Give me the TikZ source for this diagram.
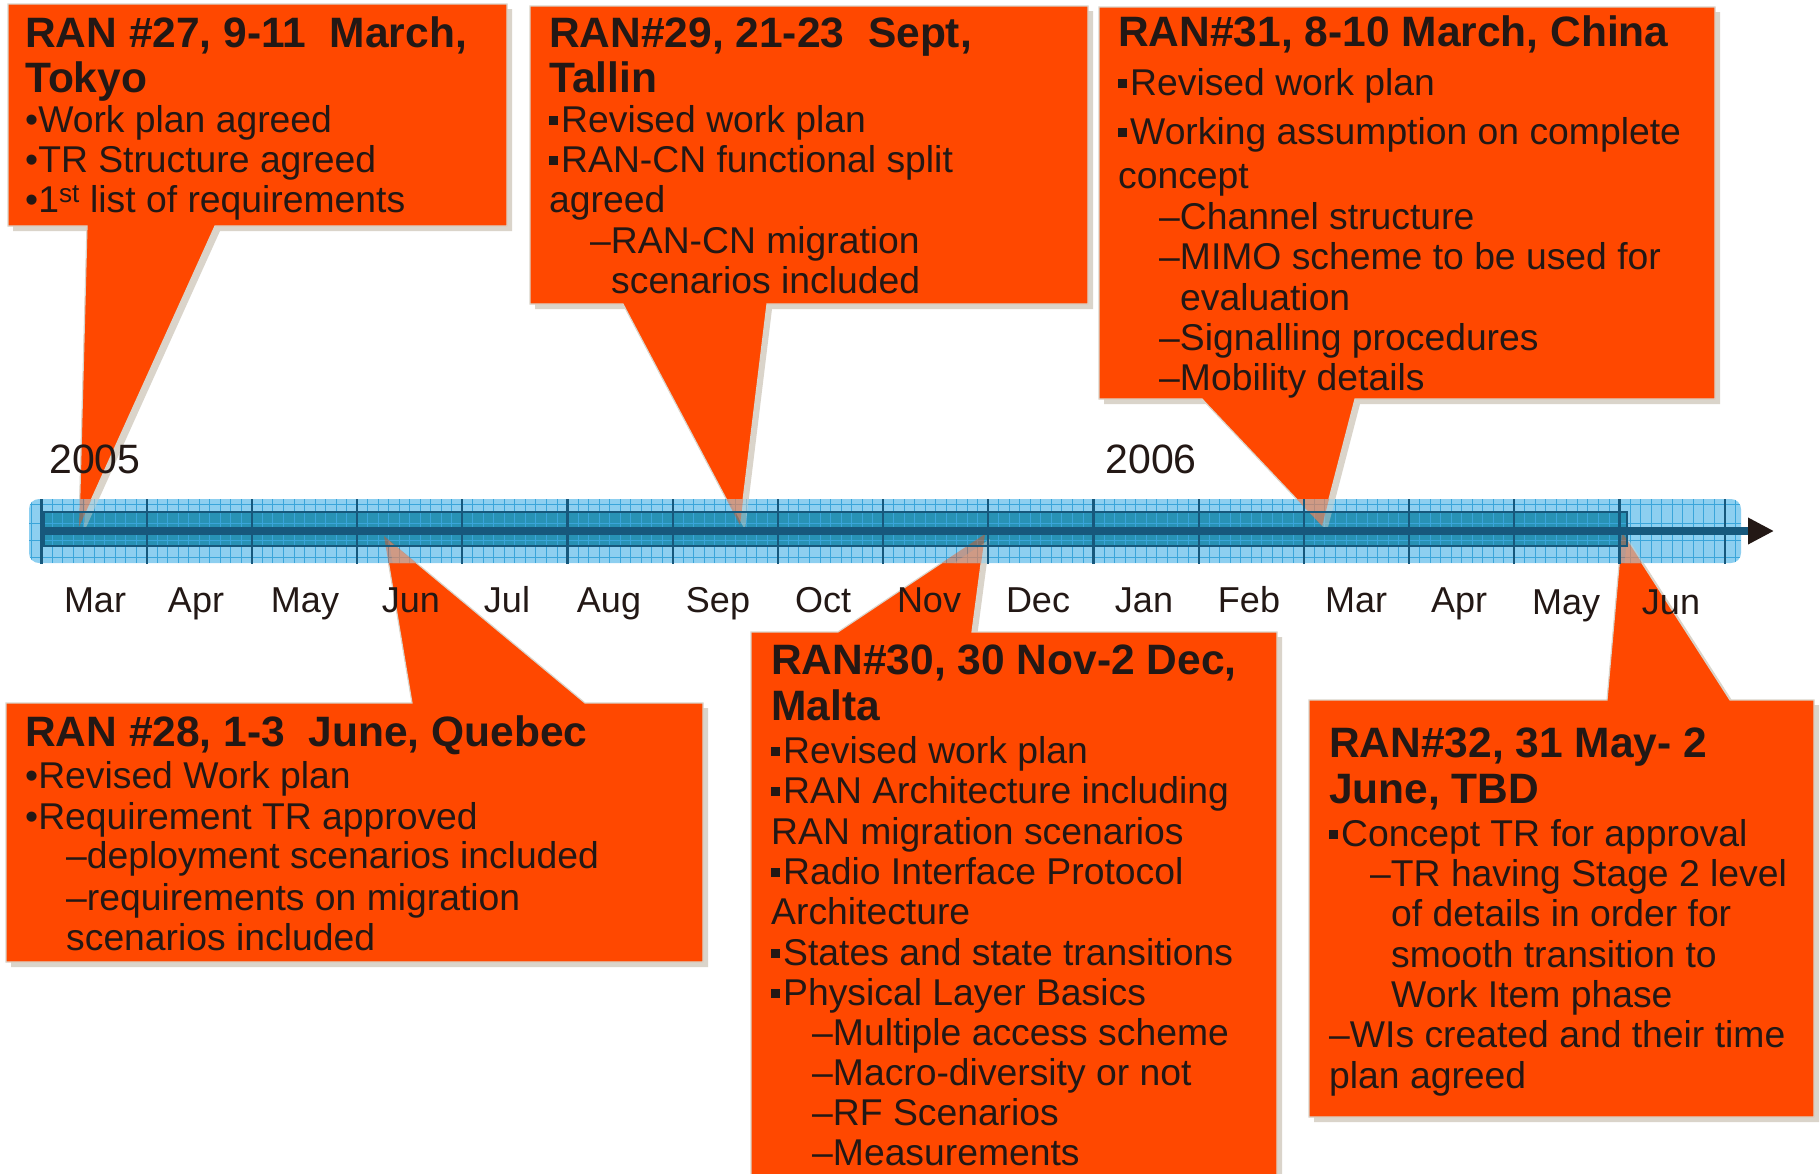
\documentclass[tikz,border=0pt]{standalone}
\usepackage{fontspec}
\setmainfont{Liberation Sans}
\usetikzlibrary{arrows.meta}
\definecolor{callfill}{HTML}{FF4800}
\definecolor{callshadow}{HTML}{DAD4CA}
\definecolor{inktext}{HTML}{231815}
\definecolor{barlight}{HTML}{8DCFF0}
\definecolor{bargrid}{HTML}{3AA5DA}
\definecolor{barband}{HTML}{2892B5}
\definecolor{bardark}{HTML}{17587C}
\tikzset{
  callout/.style={fill=callfill, draw=callshadow, line width=1.2pt},
  calloutshadow/.style={fill=callshadow, shift={(5,5)}},
  ttl/.style={font=\fontsize{42.5}{45}\selectfont\bfseries, text=inktext, inner sep=0pt, anchor=base west},
  bdy/.style={font=\fontsize{37.3}{40}\selectfont, text=inktext, inner sep=0pt, anchor=base west},
  monthlbl/.style={font=\fontsize{36}{40}\selectfont, text=inktext, inner sep=0pt, anchor=base},
  yearlbl/.style={font=\fontsize{41}{45}\selectfont, text=inktext, inner sep=0pt, anchor=base},
}
\newcommand\sqb{\raisebox{7pt}{\rule{9pt}{9pt}}\hspace{3pt}}
\newcommand\tline[5]{\node[#1] (#2) at (#3,#4) {#5};}
\newcommand\pathA{(8,4) -- (507,4) -- (507,226) -- (215,226) -- (79,527) -- (87,226) -- (8,226) -- cycle}
\newcommand\pathB{(530,6) -- (1088,6) -- (1088,304) -- (767,304) -- (740,525) -- (623,304) -- (530,304) -- cycle}
\newcommand\pathC{(1099,7) -- (1715,7) -- (1715,399) -- (1355,399) -- (1322,526) -- (1202,399) -- (1099,399) -- cycle}
\newcommand\pathD{(6,703) -- (412,703) -- (384,536) -- (585,703) -- (703,703) -- (703,962) -- (6,962) -- cycle}
\newcommand\pathE{(751,632) -- (838,632) -- (985,534) -- (972,632) -- (1277,632) -- (1277,1190) -- (751,1190) -- cycle}
\newcommand\pathF{(1309,700) -- (1607,700) -- (1622,532) -- (1730,700) -- (1814,700) -- (1814,1117) -- (1309,1117) -- cycle}
\begin{document}
\begin{tikzpicture}[x=1pt,y=-1pt]
\useasboundingbox (0,0) rectangle (1820,1173);
\fill[white] (0,0) rectangle (1820,1173);
% callouts
\foreach \p in {\pathA,\pathB,\pathC,\pathD,\pathE,\pathF}{
  \fill[calloutshadow] \p;
  \filldraw[callout] \p;
}
% timeline bar
\fill[barlight, rounded corners=10pt] (29,499) rectangle (1741,563);
\fill[barband] (44,512) rectangle (1627,546);
\begin{scope}
  \clip[rounded corners=10pt] (29,499) rectangle (1741,563);
  \foreach \i in {0,...,166}{
    \draw[bargrid, line width=1pt] ({31+10.52*\i},499) -- ({31+10.52*\i},563);
  }
  \foreach \yy in {504,523,540,557}{
    \draw[bargrid, line width=1pt] (29,\yy) -- (1741,\yy);
  }
  % semi-transparent callout tips over the bar
  \foreach \p in {\pathA,\pathB,\pathC,\pathD,\pathE,\pathF}{
    \fill[callshadow, opacity=0.45, shift={(5,5)}] \p;
    \fill[callfill, opacity=0.4] \p;
  }
\end{scope}
\draw[bardark, line width=2.5pt] (44,512) rectangle (1627,546);
\coordinate (tlstart) at (44,531);
\coordinate (tlend) at (1774,531);
\draw[bardark, line width=8pt, -{Triangle[length=26pt,width=25pt,color=inktext]}] (tlstart) -- (tlend);
\foreach \k in {0,...,16}{
  \draw[bardark, line width=2.2pt] ({41.5+105.2*\k},499) -- ({41.5+105.2*\k},564);
}
% month labels
\foreach \m/\mx [count=\k from 0] in {Mar/95,Apr/196,May/305,Jun/411,Jul/507,Aug/609,Sep/718,Oct/823,Nov/929,Dec/1038,Jan/1144,Feb/1249,Mar/1356,Apr/1459}{
  \node[monthlbl] (m\k) at (\mx,612) {\m};
}
\node[monthlbl] (m14) at (1566,614) {May};
\node[monthlbl] (m15) at (1671,614) {Jun};
\node[yearlbl] (y2005) at (95,473) {2005};
\node[yearlbl] (y2006) at (1151,473) {2006};
% callout 1
\tline{ttl}{a1}{25}{47}{RAN \#27, 9-11\ \ March,}
\tline{ttl}{a2}{25}{92}{Tokyo}
\tline{bdy}{a3}{25}{132}{•Work plan agreed}
\tline{bdy}{a4}{25}{172}{•TR Structure agreed}
\tline{bdy}{a5}{25}{212}{•1\textsuperscript{st} list of requirements}
% callout 2
\tline{ttl}{b1}{549}{47}{RAN\#29, 21-23\ \ Sept,}
\tline{ttl}{b2}{549}{92}{Tallin}
\tline{bdy}{b3}{549}{132}{\sqb Revised work plan}
\tline{bdy}{b4}{549}{172}{\sqb RAN-CN functional split}
\tline{bdy}{b5}{549}{212}{agreed}
\tline{bdy}{b6}{590}{253}{–RAN-CN migration}
\tline{bdy}{b7}{611}{293}{scenarios included}
% callout 3
\tline{ttl}{c1}{1118}{46}{RAN\#31, 8-10 March, China}
\tline{bdy}{c2}{1118}{95}{\sqb Revised work plan}
\tline{bdy}{c3}{1118}{144}{\sqb Working assumption on complete}
\tline{bdy}{c4}{1118}{188}{concept}
\tline{bdy}{c5}{1159}{229}{–Channel structure}
\tline{bdy}{c6}{1159}{269}{–MIMO scheme to be used for}
\tline{bdy}{c7}{1180}{310}{evaluation}
\tline{bdy}{c8}{1159}{350}{–Signalling procedures}
\tline{bdy}{c9}{1159}{390}{–Mobility details}
% callout 4
\tline{ttl}{d1}{25}{746}{RAN \#28, 1-3\ \ June, Quebec}
\tline{bdy}{d2}{25}{788}{•Revised Work plan}
\tline{bdy}{d3}{25}{829}{•Requirement TR approved}
\tline{bdy}{d4}{66}{868}{–deployment scenarios included}
\tline{bdy}{d5}{66}{910}{–requirements on migration}
\tline{bdy}{d6}{66}{950}{scenarios included}
% callout 5
\tline{ttl}{e1}{771}{674}{RAN\#30, 30 Nov-2 Dec,}
\tline{ttl}{e2}{771}{720}{Malta}
\tline{bdy}{e3}{771}{763}{\sqb Revised work plan}
\tline{bdy}{e4}{771}{803}{\sqb RAN Architecture including}
\tline{bdy}{e5}{771}{844}{RAN migration scenarios}
\tline{bdy}{e6}{771}{884}{\sqb Radio Interface Protocol}
\tline{bdy}{e7}{771}{924}{Architecture}
\tline{bdy}{e8}{771}{965}{\sqb States and state transitions}
\tline{bdy}{e9}{771}{1005}{\sqb Physical Layer Basics}
\tline{bdy}{e10}{812}{1045}{–Multiple access scheme}
\tline{bdy}{e11}{812}{1085}{–Macro-diversity or not}
\tline{bdy}{e12}{812}{1125}{–RF Scenarios}
\tline{bdy}{e13}{812}{1165}{–Measurements}
% callout 6
\tline{ttl}{f1}{1329}{757}{RAN\#32, 31 May- 2}
\tline{ttl}{f2}{1329}{803}{June, TBD}
\tline{bdy}{f3}{1329}{846}{\sqb Concept TR for approval}
\tline{bdy}{f4}{1370}{886}{–TR having Stage 2 level}
\tline{bdy}{f5}{1391}{926}{of details in order for}
\tline{bdy}{f6}{1391}{967}{smooth transition to}
\tline{bdy}{f7}{1391}{1007}{Work Item phase}
\tline{bdy}{f8}{1329}{1047}{–WIs created and their time}
\tline{bdy}{f9}{1329}{1088}{plan agreed}
\end{tikzpicture}
\end{document}
